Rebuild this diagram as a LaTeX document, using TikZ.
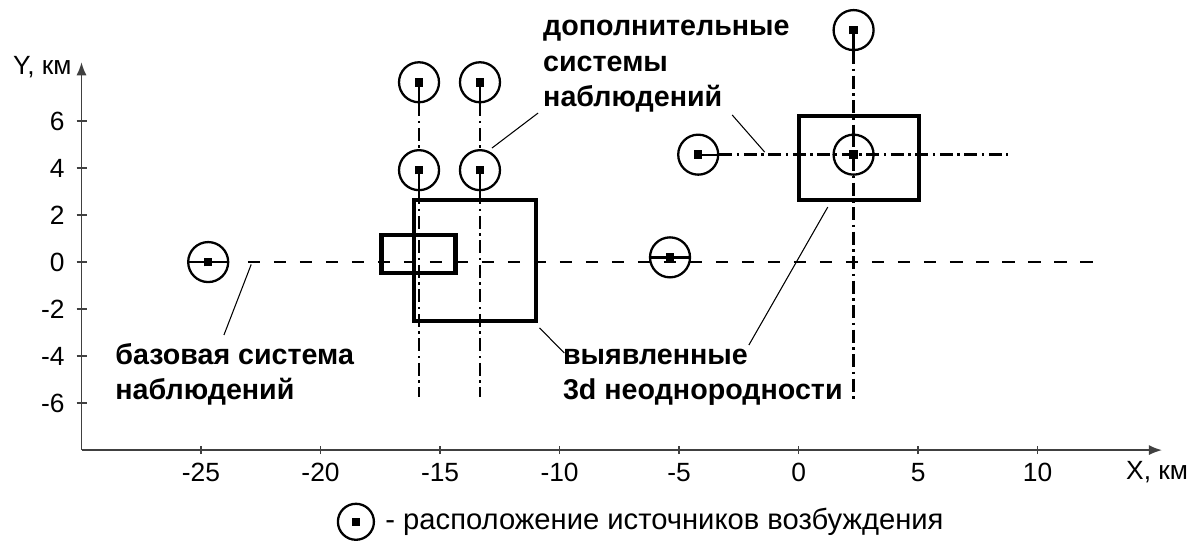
\documentclass[tikz,border=0pt]{standalone}
\usepackage{fontspec}
\setmainfont{Liberation Sans}
\usetikzlibrary{arrows.meta}

\tikzset{
  src/.style={circle,draw,line width=1.3pt,minimum size=0.8cm,inner sep=0pt},
  stem/.style={line width=1.3pt},
  body/.style={line width=2.4pt},
  baseline/.style={line width=1.5pt,dash pattern=on 0.25cm off 0.27cm},
  dashdot/.style={line width=1.5pt,dash pattern=on 0.26cm off 0.09cm on 0.05cm off 0.09cm},
  leader/.style={line width=0.6pt},
  axis/.style={line width=0.8pt,black!75},
  tick/.style={font=\fontsize{15}{17}\selectfont,inner sep=0pt},
  note/.style={font=\bfseries\fontsize{16.3}{20}\selectfont,align=left,inner sep=0pt,anchor=west}
}

\begin{document}
\begin{tikzpicture}[x=0.478cm,y=0.47cm]
\useasboundingbox (-33.41,-11.83) rectangle (16.75,11.15);

% axes
\draw[axis,-{Latex[length=0.26cm,width=0.2cm]}] (-30,-8) -- (-30,8.5);
\draw[axis,-{Latex[length=0.26cm,width=0.2cm]}] (-30,-8) -- (15.2,-8);
\node[tick,anchor=base east] (ylab) at (-30.4,8.0) {Y, км};
\node[tick,anchor=base] (xlab) at (15.0,-9.25) {X, км};
\foreach \v in {-6,-4,-2,0,2,4,6} {
  \draw[axis] (-30.2,\v) -- (-29.75,\v);
  \node[tick,anchor=east] (yt\v) at (-30.69,\v) {\v};
}
\foreach \v in {-25,-20,-15,-10,-5,0,5,10} {
  \draw[axis] (\v,-8.17) -- (\v,-7.83);
  \node[tick,anchor=base] (xt\v) at (\v,-9.32) {\v};
}

% base line and inhomogeneities
\coordinate (b0) at (-23.04,0);
\coordinate (b1) at (12.78,0);
\draw[baseline] (b0) -- (b1);
\draw[body] (-16.1,-2.5) rectangle (-11.0,2.65);
\draw[body] (-17.45,-0.45) rectangle (-14.35,1.15);
\draw[body] (0,2.65) rectangle (5.05,6.2);

% sources
\node[src] (sb) at (-24.7,0) {\rule{0.17cm}{0.17cm}};
\node[src] (sm) at (-5.38,0.2) {\rule{0.17cm}{0.17cm}};
\node[src] (sa1) at (-15.88,7.65) {\rule{0.17cm}{0.17cm}};
\node[src] (sa2) at (-13.33,7.65) {\rule{0.17cm}{0.17cm}};
\node[src] (sa3) at (-15.88,3.91) {\rule{0.17cm}{0.17cm}};
\node[src] (sa4) at (-13.33,3.91) {\rule{0.17cm}{0.17cm}};
\node[src] (sr1) at (2.3,9.87) {\rule{0.17cm}{0.17cm}};
\node[src] (sr2) at (-4.2,4.57) {\rule{0.17cm}{0.17cm}};
\node[src] (sr3) at (2.3,4.57) {\rule{0.17cm}{0.17cm}};

\draw[stem] (sb.west) -- (sb.east);
\draw[stem] (sm.west) -- (sm.east);
\draw[stem] (sa1.center) -- (sa1.south);
\draw[stem] (sa2.center) -- (sa2.south);
\draw[stem] (sa3.center) -- (sa3.south);
\draw[stem] (sa4.center) -- (sa4.south);
\draw[stem] (sr1.center) -- (sr1.south);
\draw[stem] (sr2.center) -- (sr2.east);

% additional profiles
\coordinate (ea1) at (-15.88,-5.75);
\coordinate (ea2) at (-13.33,-5.75);
\coordinate (er1) at (2.3,-5.95);
\coordinate (er2) at (8.77,4.57);
\draw[dashdot] (sa1) -- (sa3) -- (ea1);
\draw[dashdot] (sa2) -- (sa4) -- (ea2);
\draw[dashdot] (sr1) -- (sr3.north);
\draw[dashdot] (sr3.north) -- (er1);
\draw[dashdot] (sr2) -- (er2);

% labels
\node[note] (lbase) at (-28.6,-4.78) {базовая система\\наблюдений};
\node[note] (ladd) at (-10.7,8.33) {дополнительные\\системы\\наблюдений};
\node[note] (lbody) at (-9.87,-4.9) {выявленные\\3d неоднородности};

\coordinate (kb0) at (-22.9,-0.1);
\coordinate (kb1) at (-24.04,-3.1);
\coordinate (ka0) at (-10.9,6.34);
\coordinate (ka1) at (-12.83,4.85);
\coordinate (ka2) at (-2.78,6.26);
\coordinate (ka3) at (-1.42,4.68);
\coordinate (kd0) at (-10.84,-2.8);
\coordinate (kd1) at (-9.8,-3.87);
\coordinate (kd2) at (-2.08,-3.53);
\coordinate (kd3) at (1.22,2.34);
\draw[leader] (kb0) -- (kb1);
\draw[leader] (ka0) -- (ka1);
\draw[leader] (ka2) -- (ka3);
\draw[leader] (kd0) -- (kd1);
\draw[leader] (kd2) -- (kd3);

% legend
\node[src,minimum size=0.72cm] (leg) at (-18.52,-11.05) {\rule{0.15cm}{0.15cm}};
\node[anchor=west,inner sep=0pt,font=\fontsize{16.6}{19}\selectfont] (legtxt) at (-17.3,-11.05) {- расположение источников возбуждения};
\end{tikzpicture}
\end{document}
